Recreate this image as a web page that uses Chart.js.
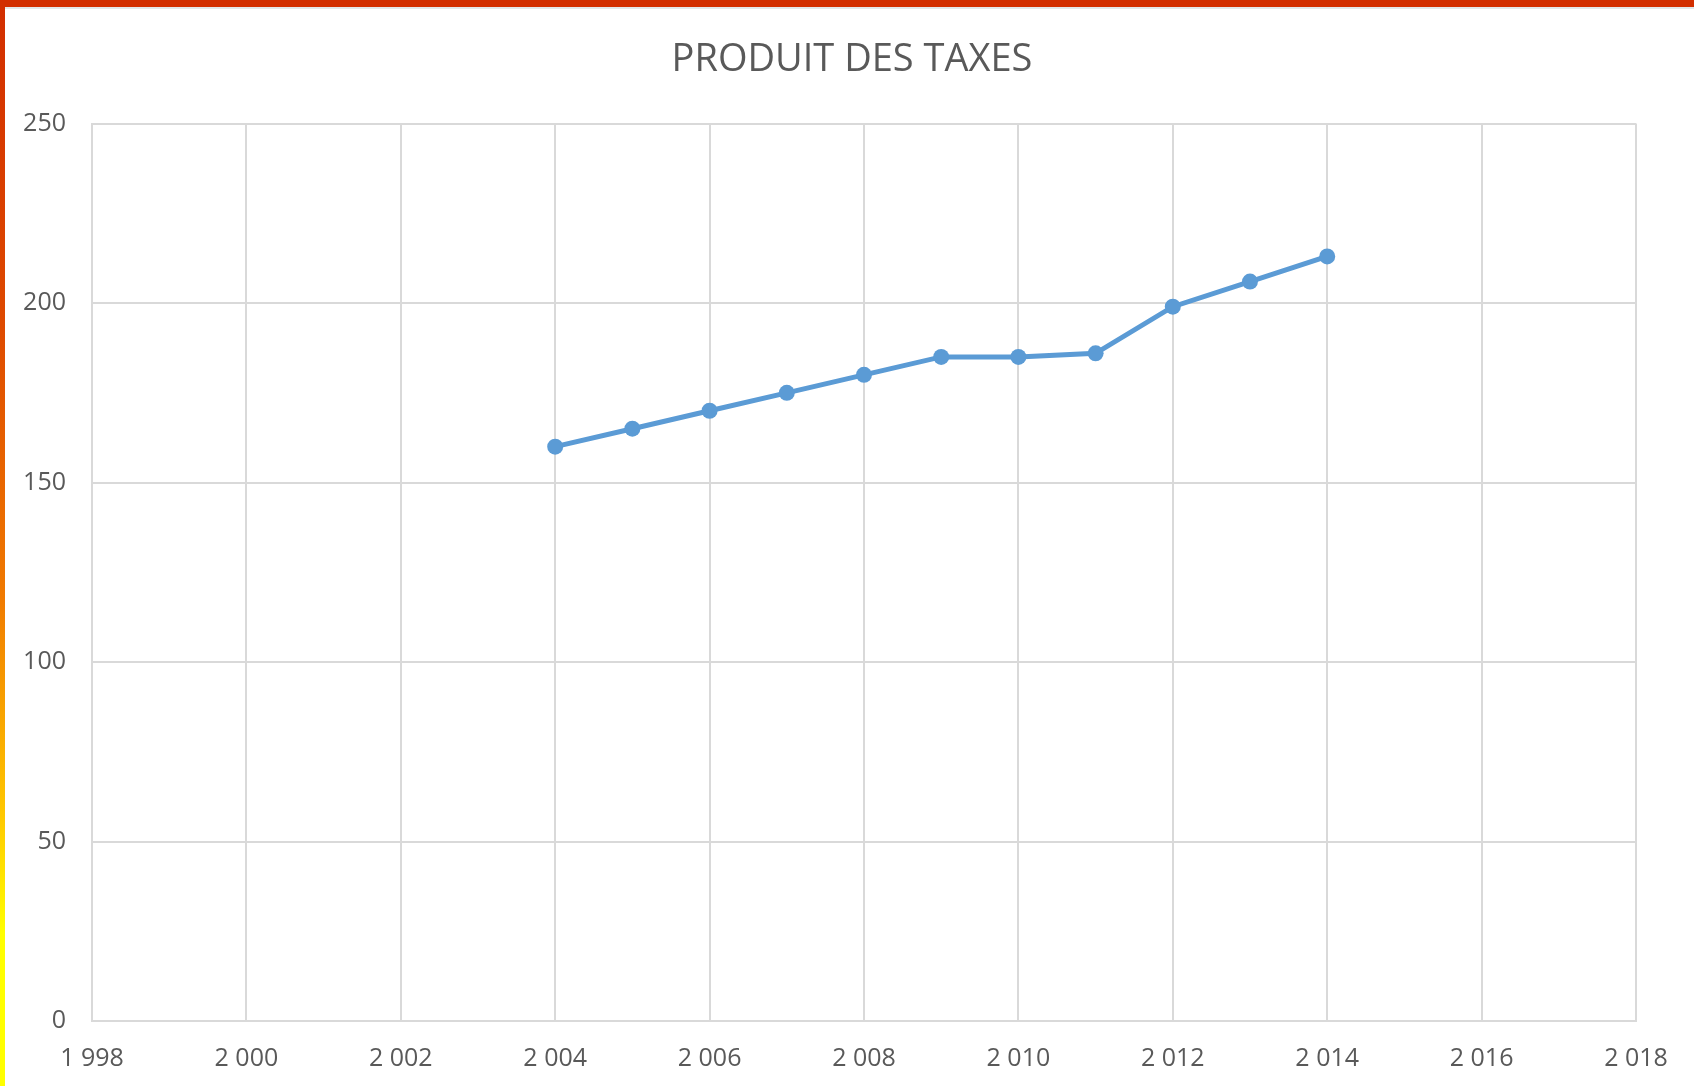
<!DOCTYPE html>
<html>
<head>
<meta charset="utf-8">
<script src="https://cdn.jsdelivr.net/npm/chart.js@4"></script>
<style>
  html, body { margin: 0; padding: 0; background: #ffffff; overflow: hidden; }
  #wrap { position: relative; width: 1694px; height: 1086px; }
  #topBar { position: absolute; left: 0; top: 0; width: 1694px; height: 7px; background: #d22e00; z-index: 2; }
  #topLine { position: absolute; left: 0; top: 7px; width: 1694px; height: 2px; background: #e3e7e9; z-index: 2; }
  #leftBar {
    position: absolute; left: 0; top: 0; width: 5px; height: 1086px; z-index: 3;
    background: linear-gradient(#d22e00 0%, #de4a00 30%, #f07a00 55%, #ffc800 75%, #ffff00 86%, #ffff00 100%);
  }
  canvas { position: absolute; left: 0; top: 0; }
</style>
</head>
<body>
<div id="wrap">
  <div id="topBar"></div>
  <div id="topLine"></div>
  <div id="leftBar"></div>
  <canvas id="taxChart" width="1694" height="1086"></canvas>
</div>
<script>
// Chart data
const years = [2004, 2005, 2006, 2007, 2008, 2009, 2010, 2011, 2012, 2013, 2014];
const taxValues = [160, 165, 170, 175, 180, 185, 185, 186, 199, 206, 213];
const chartTitle = 'PRODUIT DES TAXES';

const TEXT_COLOR = '#595959';
const GRID_COLOR = '#d9d9d9';
const LINE_COLOR = '#5b9bd5';
const FONT = '"Open Sans", "Noto Sans", sans-serif';

// "1 998" style thousands separator
function spaced(value) {
  return String(value).replace(/\B(?=(\d{3})+(?!\d))/g, ' ');
}

const ctx = document.getElementById('taxChart');

new Chart(ctx, {
  type: 'line',
  data: {
    datasets: [
      {
        label: chartTitle,
        data: years.map((year, i) => ({ x: year, y: taxValues[i] })),
        borderColor: LINE_COLOR,
        backgroundColor: LINE_COLOR,
        borderWidth: 5,
        pointRadius: 8,
        pointHoverRadius: 8,
        pointBorderWidth: 0,
        tension: 0
      }
    ]
  },
  options: {
    responsive: false,
    animation: false,
    layout: {
      // small left padding so the full-width title sits where Excel has it
      padding: { left: 10, right: 0, top: 0, bottom: 0 }
    },
    plugins: {
      legend: { display: false },
      tooltip: { enabled: false },
      title: {
        display: true,
        text: chartTitle,
        color: TEXT_COLOR,
        font: { family: FONT, size: 38, weight: 'normal' },
        padding: { top: 37, bottom: 41 }
      }
    },
    scales: {
      x: {
        type: 'linear',
        min: 1998,
        max: 2018,
        ticks: {
          stepSize: 2,
          color: TEXT_COLOR,
          font: { family: FONT, size: 25 },
          padding: 23,
          maxRotation: 0,
          callback: (value) => spaced(value)
        },
        grid: { color: GRID_COLOR, lineWidth: 2, drawTicks: false },
        border: { color: GRID_COLOR, width: 2 },
        afterFit: (scale) => {
          scale.height = 65;
          scale.paddingRight = 58;
        }
      },
      y: {
        min: 0,
        max: 250,
        ticks: {
          stepSize: 50,
          color: TEXT_COLOR,
          font: { family: FONT, size: 25 },
          padding: 26
        },
        grid: { color: GRID_COLOR, lineWidth: 2, drawTicks: false },
        border: { color: GRID_COLOR, width: 2 },
        afterFit: (scale) => { scale.width = 82; }
      }
    }
  }
});
</script>
</body>
</html>
